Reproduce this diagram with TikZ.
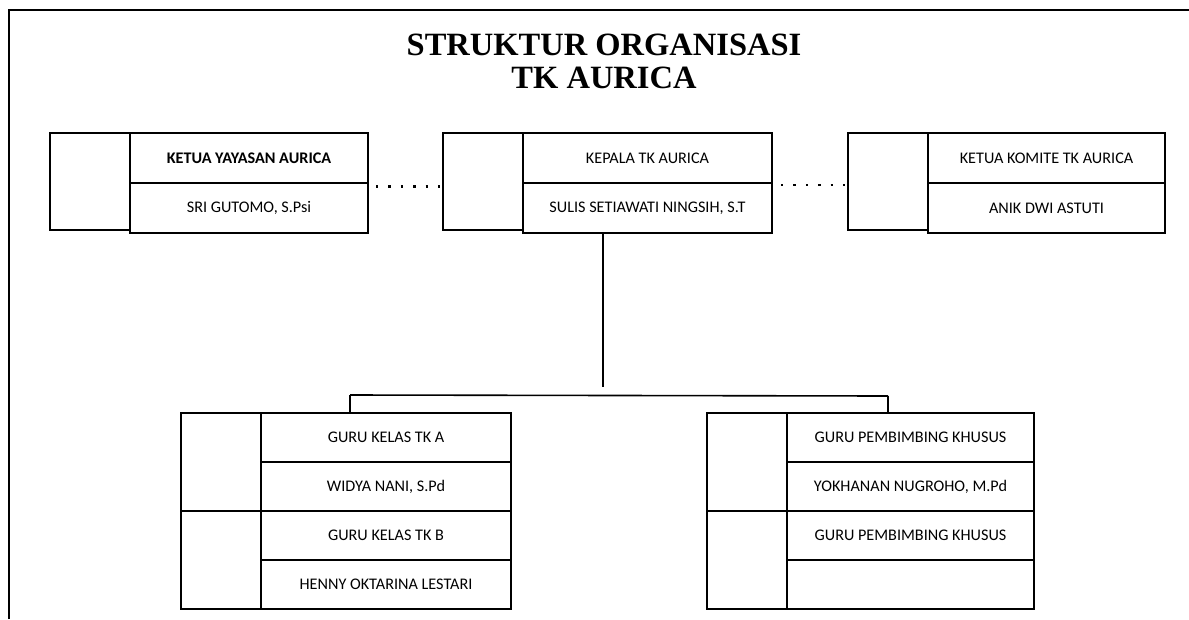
\documentclass[tikz,border=0pt]{standalone}
\usepackage{fontspec}
\setmainfont{Carlito}
\newfontfamily\titlefont{Liberation Serif}
\usetikzlibrary{positioning}

\begin{document}
\begin{tikzpicture}
[
    x=1pt, y=-1pt, node distance=0pt,
    % The strategy is to build every unit from three nodes:
    % a side box S-u, a title cell T-u and a name cell P-u
    % Top units are 1 ... 3, bottom units are 4-0, 4-1, 5-0, 5-1
]

%=================================== Start ===================================
\tikzstyle{side}    = [draw, line width=1.4pt, minimum width=80pt, minimum height=97pt, inner sep=0pt, outer sep=0pt]
\tikzstyle{cell}    = [draw, line width=1.4pt, minimum height=50pt, inner sep=0pt, outer sep=0pt,
                       font=\fontsize{16.2}{19}\selectfont]
\tikzstyle{dots}    = [line width=2.4pt, dash pattern=on 2.4pt off 10pt]
\tikzstyle{link}    = [line width=1.6pt]
\tikzstyle{heading} = [inner sep=0pt, font=\titlefont\bfseries\fontsize{32.5}{36}\selectfont]

\useasboundingbox (0,0) rectangle (1189,619);
% Page frame
\draw[line width=1.8pt] (9,619) -- (9,10) -- (1189,10);

% Title
\node[heading, anchor=base] (title-0) at (604,55) {STRUKTUR ORGANISASI};
\node[heading, anchor=base] (title-1) at (604,88) {TK AURICA};

% Draw top units
\foreach \u / \x / \w / \title / \name in {1/50/238pt/{\textbf{KETUA YAYASAN AURICA}}/{SRI GUTOMO, S.Psi},
                                           2/443/249pt/{KEPALA TK AURICA}/{SULIS SETIAWATI NINGSIH, S.T},
                                           3/848/237pt/{KETUA KOMITE TK AURICA}/{ANIK DWI ASTUTI}}
{
    \node[side, anchor=north west] (S-\u) at (\x,133) {};
    \node[cell, minimum width=\w, anchor=north west] (T-\u) at (S-\u.north east) {\title};
    \node[cell, minimum width=\w, below=of T-\u] (P-\u) {\name};
}

% Draw bottom units
\foreach \u / \k / \x / \y / \w / \title / \name in {4/0/181/413/250pt/{GURU KELAS TK A}/{WIDYA NANI, S.Pd},
                                                     4/1/181/511/250pt/{GURU KELAS TK B}/{HENNY OKTARINA LESTARI},
                                                     5/0/707/413/247pt/{GURU PEMBIMBING KHUSUS}/{YOKHANAN NUGROHO, M.Pd},
                                                     5/1/707/511/247pt/{GURU PEMBIMBING KHUSUS}/{}}
{
    \node[side, minimum height=98pt, anchor=north west] (S-\u-\k) at (\x,\y) {};
    \node[cell, minimum height=49pt, minimum width=\w, anchor=north west] (T-\u-\k) at (S-\u-\k.north east) {\title};
    \node[cell, minimum height=49pt, minimum width=\w, below=of T-\u-\k] (P-\u-\k) {\name};
}

% Dotted links between the top units
\draw[dots, shorten <=8pt, shorten >=2pt] ([yshift=-3.5pt]T-1.south east) -- ([yshift=-3.5pt]T-1.south east -| S-2.west);
\draw[dots, shorten <=9pt, shorten >=2pt] ([yshift=-2pt]T-2.south east) -- ([yshift=-2pt]T-2.south east -| S-3.west);

% Connect head to the teachers
\coordinate (hub) at (603,387);
\coordinate (bar-l) at (350,395);
\coordinate (bar-r) at (888,396);
\draw[link] (P-2.south -| hub) -- (hub);
\draw[link] (bar-l) -- (bar-r);
\draw[link] (bar-l) -- (bar-l |- T-4-0.north);
\draw[link] (bar-r) -- (bar-r |- T-5-0.north);
%==================================== END ====================================

\end{tikzpicture}
\end{document}
